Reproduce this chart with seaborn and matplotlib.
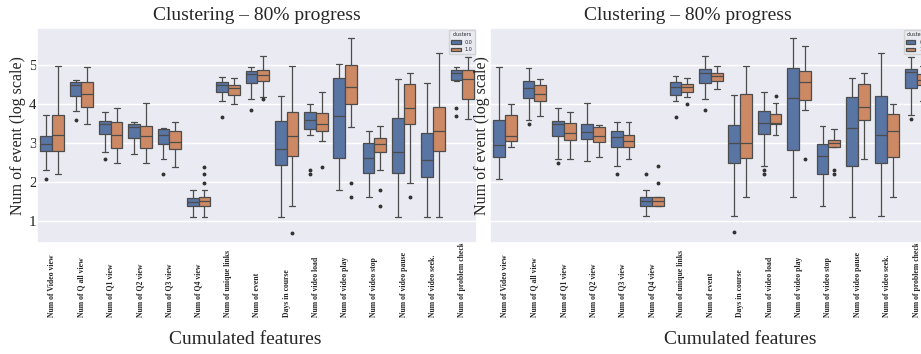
import numpy as np
import pandas as pd
import matplotlib
matplotlib.use('Agg')
import matplotlib.pyplot as plt
import seaborn as sns

features = ['Num of Video view', 'Num of Q all view', 'Num of Q1 view', 'Num of Q2 view',
            'Num of Q3 view', 'Num of Q4 view', 'Num of unique links', 'Num of event',
            'Days in course', 'Num of video load', 'Num of video play', 'Num of video stop',
            'Num of video pause', 'Num of video seek.', 'Num of problem check']
clusters = ['0.0', '1.0']

# box stats: (whisker low, q1, median, q3, whisker high)
left_c0 = [(2.31, 2.81, 2.97, 3.18, 3.72), (3.82, 4.22, 4.49, 4.57, 4.63),
           (2.78, 3.24, 3.50, 3.56, 3.79), (2.72, 3.14, 3.42, 3.48, 3.53),
           (2.58, 2.97, 3.20, 3.35, 3.38), (1.11, 1.38, 1.50, 1.60, 1.79),
           (4.07, 4.32, 4.49, 4.56, 4.70), (4.14, 4.53, 4.76, 4.86, 4.94),
           (1.11, 2.45, 2.85, 3.56, 4.22), (3.22, 3.35, 3.59, 3.80, 4.01),
           (1.79, 2.61, 3.69, 4.66, 5.02), (1.62, 2.24, 2.61, 3.01, 3.30),
           (1.11, 2.24, 2.77, 3.65, 4.65), (1.11, 2.13, 2.57, 3.27, 4.55),
           (4.59, 4.62, 4.79, 4.87, 4.95)]
left_c0_out = [[2.09], [3.58], [2.58], [], [2.20], [], [3.67], [3.84], [], [2.32, 2.20],
               [], [], [], [], [3.90, 3.69]]

left_c1 = [(2.20, 2.79, 3.20, 3.72, 4.97), (3.50, 3.92, 4.27, 4.56, 4.94),
           (2.50, 2.87, 3.22, 3.55, 3.89), (2.50, 2.87, 3.17, 3.45, 4.03),
           (2.40, 2.84, 3.03, 3.32, 3.53), (1.11, 1.38, 1.51, 1.61, 1.79),
           (4.00, 4.23, 4.40, 4.50, 4.68), (4.19, 4.58, 4.75, 4.87, 5.23),
           (1.38, 2.67, 3.18, 3.80, 4.97), (3.05, 3.30, 3.48, 3.76, 4.30),
           (3.41, 4.01, 4.44, 5.00, 5.70), (2.32, 2.78, 2.97, 3.12, 3.44),
           (1.97, 3.48, 3.89, 4.51, 4.79), (1.11, 2.79, 3.32, 3.92, 5.32),
           (3.63, 4.13, 4.65, 4.88, 5.21)]
left_c1_out = [[], [], [], [], [], [2.40, 2.20, 1.97], [], [4.12], [0.70], [2.40],
               [1.97, 1.62], [1.79, 1.38], [1.62], [], []]

right_c0 = [(2.09, 2.65, 2.96, 3.59, 4.96), (3.60, 4.16, 4.42, 4.59, 4.93),
            (2.58, 3.17, 3.50, 3.57, 3.89), (2.54, 3.11, 3.28, 3.50, 4.03),
            (2.41, 2.91, 3.15, 3.32, 3.53), (1.12, 1.39, 1.51, 1.62, 1.80),
            (4.08, 4.24, 4.44, 4.56, 4.71), (4.14, 4.54, 4.79, 4.91, 5.24),
            (1.12, 2.50, 3.01, 3.46, 4.23), (2.42, 3.24, 3.52, 3.82, 4.31),
            (1.62, 2.82, 4.15, 4.93, 5.70), (1.40, 2.20, 2.66, 2.98, 3.45),
            (1.11, 2.42, 3.39, 4.19, 4.68), (1.12, 2.50, 3.20, 4.20, 5.32),
            (3.71, 4.40, 4.81, 4.89, 5.20)]
right_c0_out = [[], [3.50], [2.50], [], [2.21], [2.21], [3.67], [3.84], [0.71],
                [2.32, 2.20], [], [], [], [], [3.63]]

right_c1 = [(2.91, 3.05, 3.18, 3.72, 4.01), (3.70, 4.09, 4.27, 4.50, 4.64),
            (2.58, 3.07, 3.25, 3.52, 3.79), (2.65, 3.03, 3.18, 3.41, 3.47),
            (2.58, 2.91, 3.05, 3.22, 3.53), (1.39, 1.39, 1.51, 1.62, 1.62),
            (4.17, 4.32, 4.44, 4.52, 4.67), (4.38, 4.58, 4.71, 4.79, 4.97),
            (1.62, 2.61, 3.00, 4.25, 4.97), (3.22, 3.48, 3.52, 3.75, 4.02),
            (3.86, 4.10, 4.57, 4.84, 5.49), (2.90, 2.90, 2.99, 3.09, 3.36),
            (2.58, 3.59, 3.93, 4.52, 4.79), (1.62, 2.65, 3.31, 3.75, 4.01),
            (4.09, 4.50, 4.63, 4.78, 4.97)]
right_c1_out = [[], [], [], [], [], [2.41, 1.99], [3.99], [], [], [4.21], [2.58],
                [2.32, 2.20], [], [], []]


def sample(stats, out, n=40):
    # points whose quartiles / whiskers reproduce the read-off box
    lo, q1, med, q3, hi = stats
    return [lo] + [q1] * n + [med] * n + [q3] * n + [hi] + list(out)


def make_df(c0, c0_out, c1, c1_out):
    rows = []
    for cl, st, outs in [('0.0', c0, c0_out), ('1.0', c1, c1_out)]:
        for f, s, o in zip(features, st, outs):
            for v in sample(s, o):
                rows.append((f, cl, v))
    return pd.DataFrame(rows, columns=['feature', 'clusters', 'value'])


sns.set_theme(style='darkgrid')
plt.rcParams['font.family'] = ['Liberation Serif', 'DejaVu Sans']

fig = plt.figure(figsize=(9.21, 3.54), dpi=100)
ax1 = fig.add_axes([0.0407, 0.3136, 0.4772, 0.6073])
ax2 = fig.add_axes([0.5324, 0.3136, 0.4788, 0.6073])

panels = [(ax1, make_df(left_c0, left_c0_out, left_c1, left_c1_out)),
          (ax2, make_df(right_c0, right_c0_out, right_c1, right_c1_out))]

for ax, df in panels:
    sns.boxplot(data=df, x='feature', y='value', hue='clusters', order=features,
                hue_order=clusters, palette=['#4C72B0', '#DD8452'], width=0.8,
                linewidth=0.9, fliersize=1.8,
                flierprops=dict(marker='o', markerfacecolor='#333333',
                                markeredgecolor='#333333'),
                ax=ax)
    ax.set_xlim(-0.5, 14.5)
    ax.set_ylim(0.44, 5.95)
    ax.set_yticks([1, 2, 3, 4, 5])
    ax.set_xticks(range(len(features)))
    ax.set_xticklabels(features, rotation=90, fontsize=5.6, fontweight='bold', va='bottom')
    ax.tick_params(axis='x', length=0, pad=53)
    ax.tick_params(axis='y', length=0, pad=0.5, labelsize=11)
    ax.set_ylabel('Num of event (log scale)', fontsize=11.5)
    ax.set_xlabel('Cumulated features', fontsize=14)

    leg = ax.get_legend()
    handles = leg.legend_handles
    labels = [t.get_text() for t in leg.get_texts()]
    leg.remove()
    ax.legend(handles, labels, title='clusters', loc='upper right',
              prop={'family': 'DejaVu Sans', 'size': 3.5},
              title_fontproperties={'family': 'DejaVu Sans', 'size': 3.5},
              borderaxespad=0.5)

ax1.set_title('Clustering – 80% progress', fontsize=14)
ax2.set_title('Clustering – 80% progress', fontsize=14, x=0.448)
ax2.set_yticklabels([])

ax1.yaxis.set_label_coords(-0.026, 0.5)
ax2.yaxis.set_label_coords(-0.001, 0.5)
ax1.xaxis.set_label_coords(0.472, -0.41)
ax2.xaxis.set_label_coords(0.566, -0.41)

fig.savefig('out.png', dpi=100)
